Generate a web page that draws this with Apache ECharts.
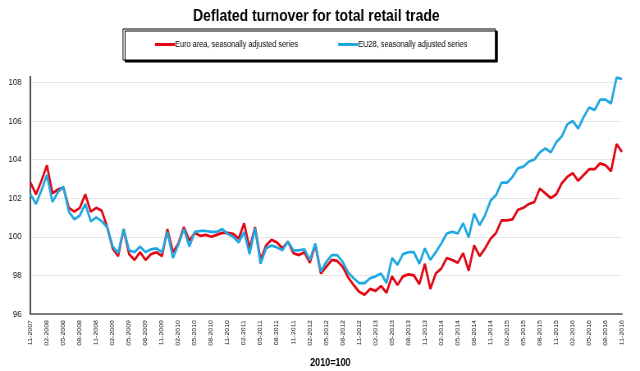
<!DOCTYPE html>
<html>
<head>
<meta charset="utf-8">
<script src="https://cdn.jsdelivr.net/npm/echarts@6/dist/echarts.min.js"></script>
<style>
html,body{margin:0;padding:0;background:#fff;overflow:hidden;}
#wrap{width:640px;height:371px;overflow:hidden;position:relative;}
#c{width:780px;height:371px;transform:scaleX(0.820513);transform-origin:0 0;position:absolute;left:0;top:0;}
</style>
</head>
<body>
<div id="wrap"><div id="c"></div></div>
<script>
// Monthly categories: 11-2007 .. 11-2016
var startYear = 2007, startMonth = 11, monthCount = 109;
var categories = [];
for (var k = 0; k < monthCount; k++) {
  var m = (startMonth - 1 + k) % 12 + 1;
  var y = startYear + Math.floor((startMonth - 1 + k) / 12);
  categories.push((m < 10 ? '0' + m : '' + m) + '-' + y);
}

var euroArea = [
  102.8, 102.2, 102.9, 103.7, 102.25, 102.45, 102.55, 101.5, 101.3, 101.5,
  102.2, 101.3, 101.5, 101.35, 100.5, 99.4, 99.0, 100.4, 99.1, 98.8,
  99.2, 98.8, 99.1, 99.2, 99.0, 100.4, 99.2, 99.65, 100.5, 99.8,
  100.2, 100.05, 100.1, 100.0, 100.1, 100.2, 100.2, 100.15, 99.9, 100.7,
  99.4, 100.5, 98.8, 99.55, 99.85, 99.7, 99.4, 99.75, 99.15, 99.05,
  99.2, 98.65, 99.6, 98.1, 98.45, 98.8, 98.75, 98.45, 97.9, 97.5,
  97.15, 97.0, 97.3, 97.2, 97.45, 97.1, 97.95, 97.5, 97.95, 98.05,
  98.0, 97.55, 98.6, 97.3, 98.1, 98.35, 98.9, 98.8, 98.65, 99.15,
  98.25, 99.55, 99.0, 99.4, 99.9, 100.2, 100.85, 100.85, 100.9, 101.4,
  101.5, 101.7, 101.8, 102.5, 102.25, 102.0, 102.2, 102.77, 103.1, 103.3,
  102.9, 103.2, 103.5, 103.5, 103.8, 103.7, 103.4, 104.8, 104.4
];

var eu28 = [
  102.2, 101.7, 102.4, 103.2, 101.8, 102.3, 102.6, 101.3, 100.9, 101.1,
  101.7, 100.8, 101.0, 100.8, 100.5, 99.5, 99.15, 100.4, 99.3, 99.2,
  99.5, 99.2, 99.35, 99.4, 99.2, 100.25, 98.9, 99.6, 100.4, 99.5,
  100.25, 100.3, 100.3, 100.25, 100.25, 100.4, 100.15, 100.0, 99.7, 100.25,
  99.1, 100.45, 98.6, 99.4, 99.55, 99.45, 99.3, 99.75, 99.3, 99.3,
  99.35, 98.8, 99.65, 98.2, 98.7, 99.05, 99.05, 98.7, 98.15, 97.85,
  97.6, 97.6, 97.85, 97.95, 98.1, 97.6, 98.9, 98.55, 99.1, 99.2,
  99.2, 98.6, 99.4, 98.8, 99.2, 99.65, 100.17, 100.26, 100.17, 100.7,
  99.97, 101.2, 100.6, 101.12, 101.87, 102.16, 102.8, 102.8, 103.1, 103.55,
  103.63, 103.9, 104.0, 104.37, 104.58, 104.37, 104.9, 105.2, 105.82, 106.0,
  105.6, 106.2, 106.7, 106.57, 107.1, 107.1, 106.9, 108.24, 108.17
];

var seriesNames = ['Euro area, seasonally adjusted series', 'EU28, seasonally adjusted series'];
var titleText = 'Deflated turnover for total retail trade';
var baseText = '2010=100';

var F = "'Liberation Sans', Arial, Helvetica, sans-serif";
var S = 640 / 780; // horizontal squeeze of the whole picture

var chart = echarts.init(document.getElementById('c'), null, {renderer: 'canvas', width: 780, height: 371});
chart.setOption({
  animation: false,
  backgroundColor: '#fff',
  title: [{
    text: titleText,
    left: 189 / S, top: 3,
    textStyle: {fontFamily: F, fontSize: 17, fontWeight: 'bold', color: '#000'}
  }, {
    text: baseText,
    left: 306 / S, top: 352,
    textStyle: {fontFamily: F, fontSize: 11, fontWeight: 'bold', color: '#000'}
  }],
  legend: {
    left: 123 / S, top: 29,
    padding: [11, 28 / S, 11, 32 / S],
    itemGap: 40 / S,
    itemWidth: 20 / S, itemHeight: 3,
    icon: 'rect',
    borderColor: '#000', borderWidth: 1,
    backgroundColor: '#fff',
    shadowColor: '#000', shadowBlur: 0, shadowOffsetX: 2.5, shadowOffsetY: 2,
    textStyle: {fontFamily: F, fontSize: 9, color: '#000', padding: [0, 0, 0, -5]},
    data: seriesNames
  },
  grid: {left: 30.5 / S, right: 18 / S, top: 76.5, bottom: 57},
  xAxis: {
    type: 'category',
    data: categories,
    boundaryGap: false,
    axisLine: {lineStyle: {color: '#555', width: 1.5}},
    axisTick: {show: false},
    axisLabel: {interval: 2, rotate: 90, margin: 6, fontFamily: F, fontSize: 7, color: '#111'},
    splitLine: {show: false}
  },
  yAxis: {
    type: 'value',
    min: 96, max: 108.3, interval: 2,
    axisLine: {show: true, lineStyle: {color: '#111', width: 1.5}},
    axisTick: {show: false},
    axisLabel: {margin: 9 / S, fontFamily: F, fontSize: 9.5, color: '#111', showMaxLabel: false},
    splitLine: {showMaxLine: false, lineStyle: {color: '#e6e6e6', width: 1}}
  },
  series: [{
    name: seriesNames[0], type: 'line', data: euroArea,
    showSymbol: false, symbol: 'none',
    lineStyle: {color: '#e30613', width: 2.7},
    itemStyle: {color: '#e30613'}
  }, {
    name: seriesNames[1], type: 'line', data: eu28,
    showSymbol: false, symbol: 'none',
    lineStyle: {color: '#1ea7e1', width: 2.7},
    itemStyle: {color: '#1ea7e1'}
  }]
});
</script>
</body>
</html>
